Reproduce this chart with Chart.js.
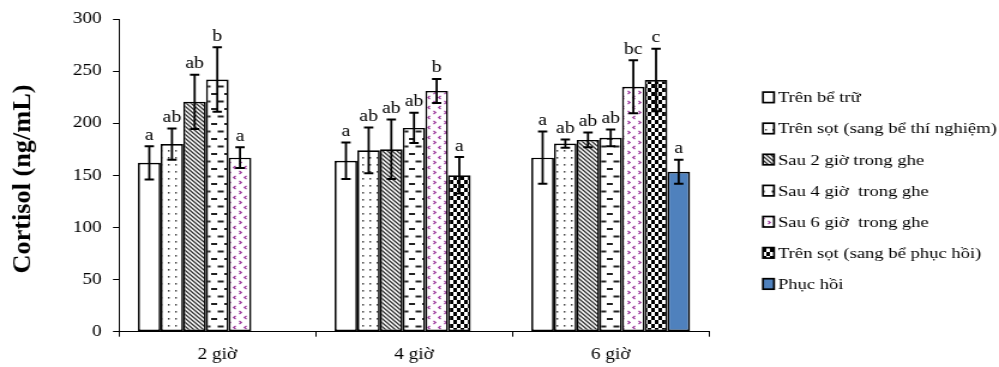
<!DOCTYPE html>
<html>
<head>
<meta charset="utf-8">
<script src="https://cdn.jsdelivr.net/npm/chart.js@4.4.1/dist/chart.umd.min.js"></script>
<style>
  html, body { margin: 0; padding: 0; background: #fff; overflow: hidden; }
  /* the reference is stretched sideways, so draw narrow and widen */
  #wrap { width: 833px; height: 367px; transform: scaleX(1.19928); transform-origin: 0 0; }
</style>
</head>
<body>
<div id="wrap"><canvas id="cortisolChart"></canvas></div>
<script>
// Data
const groups = ['2 giờ', '4 giờ', '6 giờ'];
const seriesNames = [
  'Trên bể trữ',
  'Trên sọt (sang bể thí nghiệm)',
  'Sau 2 giờ trong ghe',
  'Sau 4 giờ  trong ghe',
  'Sau 6 giờ  trong ghe',
  'Trên sọt (sang bể phục hồi)',
  'Phục hồi'
];
const meanValues = [
  [162, 164, 167],
  [180, 174, 180.5],
  [220.5, 175, 184],
  [242, 195.5, 186],
  [167, 231, 235],
  [null, 150, 241.5],
  [null, null, 153.5]
];
const errValues = [
  [16, 17.5, 25],
  [15, 22, 4],
  [26, 28.5, 7],
  [31, 14.5, 8],
  [10, 11.5, 25.5],
  [null, 17.5, 30],
  [null, null, 11.5]
];
const letters = [
  ['a', 'a', 'a'],
  ['ab', 'ab', 'ab'],
  ['ab', 'ab', 'ab'],
  ['b', 'ab', 'ab'],
  ['a', 'b', 'bc'],
  [null, 'a', 'c'],
  [null, null, 'a']
];
const yTicks = [0, 50, 100, 150, 200, 250, 300];

const FONT = 'Liberation Serif';
Chart.defaults.font.family = FONT;
Chart.defaults.color = '#000';

function makePattern(w, h, draw) {
  const c = document.createElement('canvas');
  c.width = w;
  c.height = h;
  const g = c.getContext('2d');
  g.fillStyle = '#fff';
  g.fillRect(0, 0, w, h);
  draw(g);
  return g.createPattern(c, 'repeat');
}

const fills = [
  '#ffffff',
  // dots
  makePattern(6, 7, g => {
    g.fillStyle = '#444';
    g.fillRect(2, 3, 1.4, 1.6);
  }),
  // back diagonal stripes
  makePattern(4, 4, g => {
    g.strokeStyle = '#333';
    g.lineWidth = 1.3;
    g.beginPath();
    g.moveTo(-1, -1); g.lineTo(5, 5);
    g.moveTo(-1, 3); g.lineTo(1, 5);
    g.moveTo(3, -1); g.lineTo(5, 1);
    g.stroke();
  }),
  // brick dashes
  makePattern(11, 15, g => {
    g.fillStyle = '#222';
    g.fillRect(0, 3, 5, 2);
    g.fillRect(5.5, 10.5, 5, 2);
  }),
  // purple chevrons
  makePattern(9, 10, g => {
    g.strokeStyle = '#993399';
    g.lineWidth = 1.2;
    g.beginPath();
    g.moveTo(1.5, 1); g.lineTo(3.2, 2.5); g.lineTo(1.5, 4);
    g.moveTo(7.5, 6); g.lineTo(5.8, 7.5); g.lineTo(7.5, 9);
    g.stroke();
  }),
  // checkerboard
  makePattern(6, 8, g => {
    g.fillStyle = '#000';
    g.fillRect(0, 0, 3, 4);
    g.fillRect(3, 4, 3, 4);
  }),
  '#4f81bd'
];

const datasets = seriesNames.map((name, i) => ({
  label: name,
  data: meanValues[i],
  backgroundColor: fills[i],
  borderColor: '#000',
  borderWidth: 1.7,
  borderSkipped: false
}));

// error bars and significance letters
const errorBarPlugin = {
  id: 'errorBars',
  afterDatasetsDraw(chart) {
    const ctx = chart.ctx;
    const y = chart.scales.y;
    ctx.save();
    ctx.strokeStyle = '#000';
    ctx.fillStyle = '#000';
    ctx.font = `16.5px "${FONT}"`;
    ctx.textAlign = 'center';
    ctx.textBaseline = 'alphabetic';
    chart.data.datasets.forEach((ds, i) => {
      const meta = chart.getDatasetMeta(i);
      ds.data.forEach((v, j) => {
        if (v === null) return;
        const bar = meta.data[j];
        const e = errValues[i][j];
        const top = y.getPixelForValue(v + e);
        const bot = y.getPixelForValue(v - e);
        ctx.lineWidth = 1.8;
        ctx.beginPath();
        ctx.moveTo(bar.x, top);
        ctx.lineTo(bar.x, bot);
        ctx.stroke();
        ctx.lineWidth = 2;
        ctx.beginPath();
        ctx.moveTo(bar.x - 3.9, top);
        ctx.lineTo(bar.x + 3.9, top);
        ctx.moveTo(bar.x - 3.9, bot);
        ctx.lineTo(bar.x + 3.9, bot);
        ctx.stroke();
        if (letters[i][j]) {
          ctx.fillText(letters[i][j], bar.x, top - 6.5);
        }
      });
    });
    ctx.restore();
  }
};

// y title and right-hand legend
const decorPlugin = {
  id: 'decor',
  afterDraw(chart) {
    const ctx = chart.ctx;
    ctx.save();
    ctx.fillStyle = '#000';
    ctx.translate(20, 179);
    ctx.rotate(-Math.PI / 2);
    ctx.scale(1.28, 1);
    ctx.font = `bold 20.5px "${FONT}"`;
    ctx.textAlign = 'center';
    ctx.textBaseline = 'middle';
    ctx.fillText('Cortisol (ng/mL)', 0, 0);
    ctx.restore();

    ctx.save();
    ctx.font = `15.5px "${FONT}"`;
    ctx.textBaseline = 'middle';
    chart.data.datasets.forEach((ds, i) => {
      const rowY = 97.3 + 31.1 * i;
      ctx.fillStyle = ds.backgroundColor;
      ctx.fillRect(636.2, rowY - 5.2, 9.2, 10.5);
      ctx.strokeStyle = '#000';
      ctx.lineWidth = 1.7;
      ctx.strokeRect(636.2, rowY - 5.2, 9.2, 10.5);
      ctx.fillStyle = '#000';
      ctx.fillText(ds.label, 648.7, rowY + 1);
    });
    ctx.restore();
  }
};

new Chart(document.getElementById('cortisolChart'), {
  type: 'bar',
  data: { labels: groups, datasets },
  options: {
    responsive: true,
    maintainAspectRatio: false,
    animation: false,
    layout: { padding: { left: 0, right: 241.8, top: 16.7, bottom: 0 } },
    plugins: {
      legend: { display: false },
      tooltip: { enabled: false }
    },
    datasets: {
      bar: { categoryPercentage: 0.807, barPercentage: 1 }
    },
    scales: {
      x: {
        grid: { drawOnChartArea: false, color: '#000', tickLength: 5, offset: true },
        border: { color: '#000', width: 1 },
        ticks: { font: { size: 16 }, padding: 8.5, color: '#000' },
        afterFit(scale) { scale.height = 35.3; }
      },
      y: {
        min: 0,
        max: 300,
        afterBuildTicks(scale) { scale.ticks = yTicks.map(v => ({ value: v })); },
        grid: { drawOnChartArea: false, color: '#000', tickLength: 5 },
        border: { color: '#000', width: 1 },
        ticks: { font: { size: 16 }, padding: 9.4, color: '#000' },
        afterFit(scale) { scale.width = 99.2; }
      }
    }
  },
  plugins: [errorBarPlugin, decorPlugin]
});
</script>
</body>
</html>
